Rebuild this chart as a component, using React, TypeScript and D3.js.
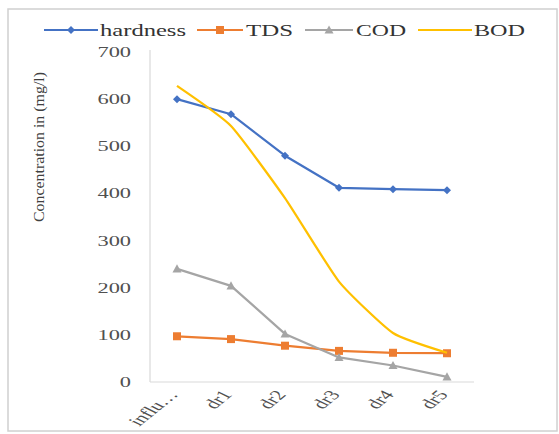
import React from "react";
import * as d3 from "d3";

// Sample points along the treatment train
const categories = ["influ…", "dr1", "dr2", "dr3", "dr4", "dr5"];
const hardness = [600, 568, 480, 412, 409, 407];
const tds = [97, 91, 77, 66, 62, 61];
const cod = [240, 204, 102, 52, 35, 11];
const bod = [628, 543, 390, 213, 104, 62];
const yTicks = [0, 100, 200, 300, 400, 500, 600, 700];

const seriesNames = ["hardness", "TDS", "COD", "BOD"];
const seriesColors = ["#4472C4", "#ED7D31", "#A5A5A5", "#FFC000"];

const W = 559;
const H = 434;
const plot = { left: 150, right: 474, top: 52, bottom: 382 };
const SX = 1.6; // horizontal text stretch
const FONT = "'Liberation Serif', 'Times New Roman', serif";

function Txt(props: {
  x: number;
  y: number;
  size: number;
  anchor?: string;
  rot?: number;
  sx?: number;
  children: React.ReactNode;
  fill?: string;
}) {
  const { x, y, size, anchor = "start", rot = 0, sx = SX, children, fill = "#505050" } = props;
  return (
    <text
      transform={`translate(${x},${y}) scale(${sx},1) rotate(${rot})`}
      fontFamily={FONT}
      fontSize={size}
      textAnchor={anchor}
      fill={fill}
    >
      {children}
    </text>
  );
}

function Marker({ kind, x, y, color }: { kind: string; x: number; y: number; color: string }) {
  if (kind === "diamond") {
    const s = 4;
    return <path d={`M${x},${y - s}L${x + s},${y}L${x},${y + s}L${x - s},${y}Z`} fill={color} />;
  }
  if (kind === "square") {
    const s = 4;
    return <rect x={x - s} y={y - s} width={2 * s} height={2 * s} fill={color} />;
  }
  if (kind === "triangle") {
    const s = 4.5;
    return <path d={`M${x},${y - s}L${x + s},${y + s * 0.8}L${x - s},${y + s * 0.8}Z`} fill={color} />;
  }
  return null;
}

export default function App() {
  const x = d3.scaleBand<string>().domain(categories).range([plot.left, plot.right]);
  const y = d3.scaleLinear().domain([0, 700]).range([plot.bottom, plot.top]);
  const cx = (c: string) => (x(c) ?? 0) + x.bandwidth() / 2;

  const straight = d3
    .line<number>()
    .x((_, i) => cx(categories[i]))
    .y((v) => y(v));
  const smooth = d3
    .line<number>()
    .x((_, i) => cx(categories[i]))
    .y((v) => y(v))
    .curve(d3.curveCardinal.tension(0.5));

  const series = [
    { name: "hardness", values: hardness, marker: "diamond", path: straight },
    { name: "TDS", values: tds, marker: "square", path: straight },
    { name: "COD", values: cod, marker: "triangle", path: straight },
    { name: "BOD", values: bod, marker: "none", path: smooth },
  ];

  // legend layout: line start, line end, text start, text width
  const legendY = 30;
  const legend = [
    { x0: 44, x1: 98, tx: 100, tw: 86, marker: "diamond" },
    { x0: 197, x1: 243, tx: 246, tw: 47, marker: "square" },
    { x0: 305, x1: 353, tx: 356, tw: 50, marker: "triangle" },
    { x0: 418, x1: 472, tx: 474, tw: 51, marker: "none" },
  ];

  return (
    <svg
      width={W}
      height={H}
      style={{ position: "absolute", left: 0, top: 0, background: "#fff" }}
    >
      <rect x={8} y={9} width={549} height={422} fill="#fff" stroke="#d0d0d0" strokeWidth={1.5} />

      {/* legend */}
      {legend.map((l, i) => (
        <g key={seriesNames[i]}>
          <line
            x1={l.x0}
            x2={l.x1}
            y1={legendY}
            y2={legendY}
            stroke={seriesColors[i]}
            strokeWidth={2.2}
          />
          <Marker kind={l.marker} x={(l.x0 + l.x1) / 2} y={legendY} color={seriesColors[i]} />
          <text
            x={l.tx}
            y={legendY + 5.5}
            fontFamily={FONT}
            fontSize={16}
            textLength={l.tw}
            lengthAdjust="spacingAndGlyphs"
            fill="#333"
          >
            {seriesNames[i]}
          </text>
        </g>
      ))}

      {/* axes */}
      <line x1={plot.left} x2={plot.left} y1={plot.top - 2} y2={plot.bottom} stroke="#d9d9d9" strokeWidth={1.2} />
      <line x1={plot.left} x2={plot.right} y1={plot.bottom} y2={plot.bottom} stroke="#d9d9d9" strokeWidth={1.2} />

      {yTicks.map((t) => (
        <Txt key={t} x={131} y={y(t) + 5} size={14} anchor="end">
          {t}
        </Txt>
      ))}

      {categories.map((c) => (
        <Txt key={c} x={cx(c) + 2} y={395} size={14} anchor="end" rot={-52}>
          {c}
        </Txt>
      ))}

      <text
        transform={`translate(44,147) rotate(-90)`}
        fontFamily={FONT}
        fontSize={14.5}
        textAnchor="middle"
        textLength={150}
        lengthAdjust="spacingAndGlyphs"
        fill="#404040"
      >
        Concentration in (mg/l)
      </text>

      {/* series */}
      {series.map((s, i) => (
        <g key={s.name}>
          <path
            d={s.path(s.values) ?? ""}
            fill="none"
            stroke={seriesColors[i]}
            strokeWidth={2.25}
            strokeLinejoin="round"
          />
          {s.values.map((v, j) => (
            <Marker key={j} kind={s.marker} x={cx(categories[j])} y={y(v)} color={seriesColors[i]} />
          ))}
        </g>
      ))}
    </svg>
  );
}
